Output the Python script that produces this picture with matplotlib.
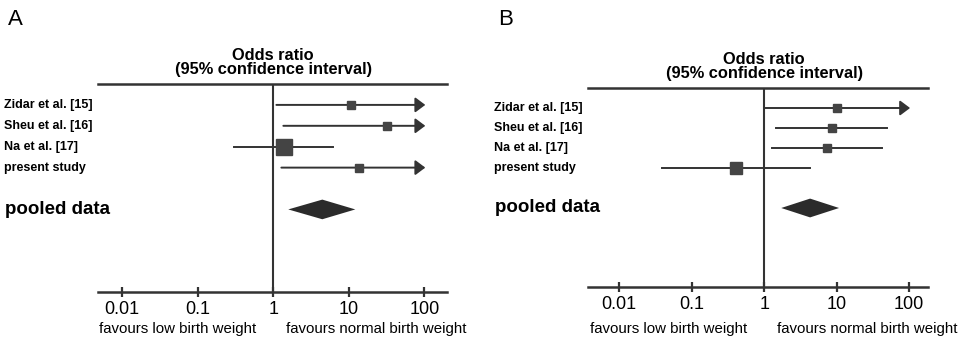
import numpy as np
import matplotlib

matplotlib.use("Agg")
from matplotlib import pyplot as plt
from matplotlib import transforms

plt.rcParams["font.family"] = ["Liberation Sans", "DejaVu Sans"]

# Data
# -----------------------------------
studies = ["Zidar et al. [15]", "Sheu et al. [16]", "Na et al. [17]", "present study"]

# Panel A: odds ratio, lower / upper CI (inf = beyond the axis, drawn as arrow)
or_a = [10.8, 32.0, 1.4, 13.8]
lo_a = [1.1, 1.36, 0.30, 1.28]
hi_a = [np.inf, np.inf, 6.2, np.inf]
weight_a = [1.0, 1.0, 2.1, 1.0]
pooled_a = [1.58, 4.46, 12.2]  # lower, estimate, upper

# Panel B
or_b = [10.0, 8.7, 7.4, 0.41]
lo_b = [1.0, 1.46, 1.29, 0.039]
hi_b = [np.inf, 49.7, 42.0, 4.3]
weight_b = [1.0, 1.1, 1.1, 1.5]
pooled_b = [1.72, 4.3, 10.8]

ticks = [0.01, 0.1, 1, 10, 100]
tick_labels = ["0.01", "0.1", "1", "10", "100"]

line_col = "#333333"
box_col = "#444444"
diamond_col = "#2b2b2b"
x_clip = 103.0


def draw_panel(ax, odds, lo, hi, weight, pooled, xlim, label_x, letter, letter_x,
               fav_off):
    ax.set_xscale("log")
    ax.set_xlim(*xlim)
    ax.set_ylim(8.95, -1)
    for side in ["left", "right"]:
        ax.spines[side].set_visible(False)
    for side in ["top", "bottom"]:
        ax.spines[side].set_linewidth(1.8)
        ax.spines[side].set_color(line_col)
    ax.set_yticks([])
    ax.set_xticks(ticks)
    ax.set_xticklabels(tick_labels, fontsize=13)
    ax.minorticks_off()
    ax.tick_params(axis="x", direction="inout", length=7, width=1.6,
                   color=line_col, pad=3)

    ax.axvline(1, color=line_col, lw=1.5, zorder=1)

    for i in range(len(odds)):
        if np.isinf(hi[i]):
            ax.annotate("", xy=(x_clip, i), xytext=(lo[i], i),
                        arrowprops=dict(arrowstyle="-|>,head_length=0.6,head_width=0.45",
                                        color=line_col, lw=1.4, shrinkA=0, shrinkB=0,
                                        mutation_scale=10))
        else:
            ax.plot([lo[i], hi[i]], [i, i], color=line_col, lw=1.4)
        ax.plot(odds[i], i, "s", color=box_col, ms=5.8 * weight[i], zorder=3)

    # pooled diamond
    yp = 5
    h = 0.47
    ax.fill([pooled[0], pooled[1], pooled[2], pooled[1]],
            [yp, yp - h, yp, yp + h], color=diamond_col, lw=0)

    tr = transforms.blended_transform_factory(fig.transFigure, ax.transData)
    for i, s in enumerate(studies):
        ax.text(label_x, i, s, transform=tr, fontsize=9, fontweight="bold",
                va="center", ha="left")
    ax.text(label_x + 1.0 / 963, yp, "pooled data", transform=tr, fontsize=13.5,
            fontweight="bold", va="center", ha="left")

    ax.annotate("Odds ratio\n(95% confidence interval)", xy=(1, 1),
                xycoords=("data", "axes fraction"), xytext=(0, 5),
                textcoords="offset points", ha="center", va="bottom",
                fontsize=11.8, fontweight="bold", linespacing=0.95)

    ax.annotate("favours low birth weight", xy=(1, 0),
                xycoords=("data", "axes fraction"), xytext=(-12, fav_off),
                textcoords="offset points", ha="right", va="center", fontsize=10.8)
    ax.annotate("favours normal birth weight", xy=(1, 0),
                xycoords=("data", "axes fraction"), xytext=(9.5, fav_off),
                textcoords="offset points", ha="left", va="center", fontsize=10.8)

    fig.text(letter_x, 1 - 9.0 / 340, letter, fontsize=16, va="top", ha="left")


fig = plt.figure(figsize=(9.63, 3.4), dpi=100)
ax_a = fig.add_axes([98 / 963, 48 / 340, 349 / 963, 208 / 340])
ax_b = fig.add_axes([588 / 963, 53 / 340, 340 / 963, 199 / 340])

draw_panel(ax_a, or_a, lo_a, hi_a, weight_a, pooled_a,
           (10 ** -2.32, 10 ** 2.30), 4 / 963, "A", 8 / 963, -27)
draw_panel(ax_b, or_b, lo_b, hi_b, weight_b, pooled_b,
           (10 ** -2.43, 10 ** 2.26), 494 / 963, "B", 498 / 963, -30.5)

plt.savefig("out.png", dpi=100)
